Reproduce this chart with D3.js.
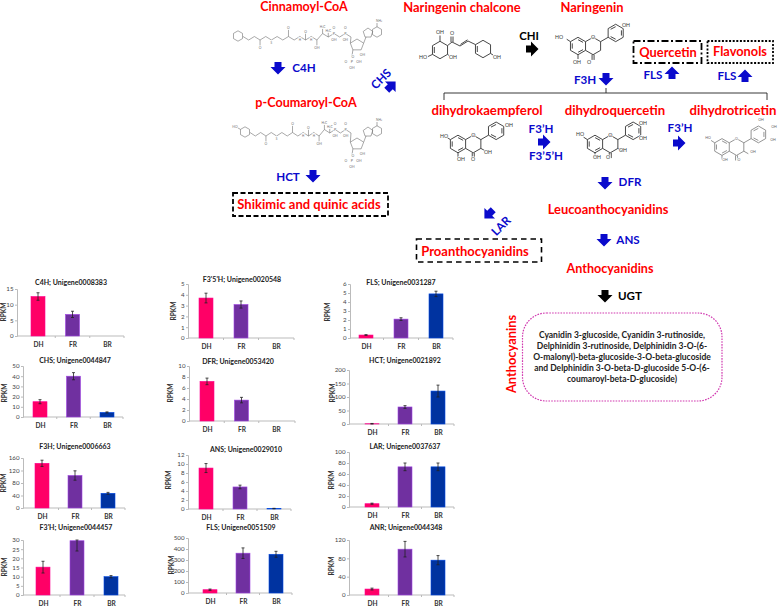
<!DOCTYPE html>
<html>
<head>
<meta charset="utf-8">
<script src="https://d3js.org/d3.v7.min.js"></script>
<style>
html, body { margin: 0; padding: 0; background: #fff; }
text { font-family: Lato, "Open Sans", sans-serif; }
</style>
</head>
<body>
<svg id="draw" width="778" height="606"></svg>
<script>
var categories = ["DH", "FR", "BR"];
var titles = [
    "C4H; Unigene0008383", "CHS; Unigene0044847", "F3H; Unigene0006663", "F3'H; Unigene0044457",
    "F3'5'H; Unigene0020548", "DFR; Unigene0053420", "ANS; Unigene0029010", "FLS; Unigene0051509",
    "FLS; Unigene0031287", "HCT; Unigene0021892", "LAR; Unigene0037637", "ANR; Unigene0044348"
];
var values = [
    [12.6, 6.9, 0], [15, 40, 4.5], [143, 104, 47], [15.2, 29.6, 10],
    [3.7, 3.1, 0], [7.2, 3.8, 0], [9.1, 4.9, 0.1], [30, 362, 352],
    [0.33, 2.1, 4.9], [1, 63, 122], [6, 73, 73], [13, 100, 76]
];
var errors = [
    [1.2, 1, 0], [2, 3.5, 0.5], [10, 15, 3], [3.2, 5.6, 0.6],
    [0.45, 0.33, 0], [0.6, 0.5, 0], [1, 0.4, 0.05], [6, 48, 27],
    [0.04, 0.15, 0.3], [1, 5, 22], [1, 7, 7], [2, 17, 10]
];
var tickValues = [
    [0, 5, 10, 15], [0, 10, 20, 30, 40, 50], [0, 40, 80, 120, 160], [0, 5, 10, 15, 20, 25, 30],
    [0, 1, 2, 3, 4, 5], [0, 2, 4, 6, 8, 10], [0, 2, 4, 6, 8, 10, 12], [0, 100, 200, 300, 400, 500],
    [0, 1, 2, 3, 4, 5, 6], [0, 50, 100, 150, 200], [0, 20, 40, 60, 80, 100], [0, 40, 80, 120]
];
var barColors = { DH: "#ff0066", FR: "#7030a0", BR: "#0033a0" };

// where each little chart sits on the page, same order as titles
// axisX, right, top, base, firstBar, lastBar, titleX, titleY, labelX, labelY
var panels = [
    [17, 124, 289, 336, 38, 107, 71, 283, 4, 312],
    [23, 123, 366, 417, 40, 107, 75, 361, 5, 393],
    [23, 125, 458, 508, 42, 108, 75, 447, 4, 483],
    [23, 125, 540, 595, 43, 111, 76, 528, 5, 567],
    [188, 294, 284, 338, 206, 276, 242, 280, 174, 311],
    [189, 295, 366, 421, 207, 276, 238, 362, 171, 393],
    [188, 291, 455, 509, 206, 274, 246, 450, 169, 480],
    [188, 292, 538, 593, 210, 276, 241, 528, 172, 565],
    [350, 453, 284, 338, 366, 436, 401, 283, 328, 312],
    [349, 454, 370, 424, 372, 438, 405, 361, 333, 393],
    [349, 454, 452, 507, 372, 438, 405, 447, 332, 480],
    [349, 454, 540, 595, 372, 438, 406, 528, 332, 566]
];

var RED = "#ff0000", BLUE = "#0a0acc", BLACK = "#000";

// text, x, y, colour, size, rotation
var pathwayLabels = [
    ["Cinnamoyl-CoA", 304, 7, RED, 12.5], ["Naringenin chalcone", 462, 7, RED, 12.95], ["Naringenin", 592, 7, RED, 12.9],
    ["p-Coumaroyl-CoA", 306, 103, RED, 12.6], ["Shikimic and quinic acids", 309, 204, RED, 13],
    ["Quercetin", 668, 52, RED, 12.85], ["Flavonols", 740, 52, RED, 12.8],
    ["dihydrokaempferol", 487, 110, RED, 13.2], ["dihydroquercetin", 615, 110, RED, 13.2], ["dihydrotricetin", 733, 110, RED, 13.2],
    ["Leucoanthocyanidins", 608, 209, RED, 12.9], ["Anthocyanidins", 610, 269, RED, 12.6], ["Proanthocyanidins", 475, 251, RED, 13],
    ["Anthocyanins", 511, 354, RED, 12.85, -90],
    ["C4H", 304, 68, BLUE, 11.6], ["HCT", 288, 177, BLUE, 11.6], ["F3H", 585, 80, BLUE, 11.6], ["FLS", 653, 75, BLUE, 11.6], ["FLS", 727, 76, BLUE, 11.6],
    ["F3\u2019H", 541, 129, BLUE, 11.6], ["F3\u20195\u2019H", 546, 156, BLUE, 11.6], ["F3\u2019H", 680, 128, BLUE, 11.6],
    ["DFR", 630, 182, BLUE, 11.6], ["ANS", 628, 240, BLUE, 11.6],
    ["CHS", 381, 79, BLUE, 11.6, -45], ["LAR", 501, 226, BLUE, 11.6, -45],
    ["CHI", 529, 36, BLACK, 11.4], ["UGT", 630, 296, BLACK, 11.6]
];
// x, y, direction in degrees (0 = down, 90 = left, 180 = up, 270 = right), colour
var pathwayArrows = [
    [278, 68, 0, BLUE], [313, 176, 0, BLUE], [606, 79, 0, BLUE], [672, 73, 180, BLUE], [745, 76, 180, BLUE],
    [544, 142, 270, BLUE], [679, 143, 270, BLUE], [605, 183, 0, BLUE], [604, 240, 0, BLUE],
    [391, 86, 225, BLUE], [489, 214, 45, BLUE], [532, 49, 270, BLACK], [605, 296, 0, BLACK]
];
var anthocyaninLines = [
    "Cyanidin 3-glucoside, Cyanidin 3-rutinoside,",
    "Delphinidin 3-rutinoside, Delphinidin 3-O-(6-",
    "O-malonyl)-beta-glucoside-3-O-beta-glucoside",
    "and Delphinidin 3-O-beta-D-glucoside 5-O-(6-",
    "coumaroyl-beta-D-glucoside)"
];

var svg = d3.select("#draw");

// ---------------------------------------------------------------------------

function drawPanel(i) {
    var p = panels[i];
    var g = svg.append("g");
    var y = d3.scaleLinear().domain(d3.extent(tickValues[i])).range([p[3], p[2]]);
    var x = d3.scalePoint().domain(categories).range([p[4], p[5]]);
    var step = x.step();
    var barW = 14;

    var yAxis = d3.axisLeft(y).tickValues(tickValues[i]).tickFormat(d3.format("d")).tickSize(2).tickPadding(1.5);
    var ax = g.append("g").attr("transform", "translate(" + p[0] + ",0)").call(yAxis);
    ax.selectAll("path, line").attr("stroke", "#bbb");
    ax.selectAll("text").attr("font-size", 6.2).attr("fill", "#444").attr("font-family", "Lato");

    // excel style x axis, ticks fall between the categories
    var xAxis = d3.axisBottom(x).tickSize(0).tickPadding(6);
    var bx = g.append("g").attr("transform", "translate(0," + p[3] + ")").call(xAxis);
    bx.select("path").remove();
    bx.selectAll("text").attr("font-size", 6.6).attr("fill", "#333").attr("font-weight", 700).attr("font-family", "Lato");
    g.append("line").attr("x1", p[0]).attr("x2", p[1]).attr("y1", p[3]).attr("y2", p[3]).attr("stroke", "#bbb");
    g.selectAll("line.sep").data(categories.slice(0, 2)).enter().append("line").attr("class", "sep")
        .attr("x1", (d) => x(d) + step / 2).attr("x2", (d) => x(d) + step / 2)
        .attr("y1", p[3]).attr("y2", p[3] + 2).attr("stroke", "#bbb");
    g.append("line").attr("x1", p[1]).attr("x2", p[1]).attr("y1", p[3]).attr("y2", p[3] + 2).attr("stroke", "#bbb");

    var rows = categories.map((c, k) => ({ c: c, v: values[i][k], e: errors[i][k] }));
    g.selectAll("rect").data(rows).enter().append("rect")
        .attr("x", (d) => x(d.c) - barW / 2)
        .attr("width", barW)
        .attr("y", (d) => y(d.v))
        .attr("height", (d) => y(0) - y(d.v))
        .attr("fill", (d) => barColors[d.c])
        .attr("stroke", (d) => d.v > 0 ? d3.color(barColors[d.c]).brighter(1).formatHex() : "none")
        .attr("stroke-width", 0.6);

    var bars = rows.filter((d) => d.e > 0);
    var top = (d) => Math.max(y(d.v + d.e), p[2]);
    g.selectAll("line.err").data(bars).enter().append("line").attr("class", "err")
        .attr("x1", (d) => x(d.c)).attr("x2", (d) => x(d.c))
        .attr("y1", top).attr("y2", (d) => y(Math.max(d.v - d.e, 0)))
        .attr("stroke", "#222").attr("stroke-width", 0.8);
    g.selectAll("line.capT").data(bars).enter().append("line").attr("class", "capT")
        .attr("x1", (d) => x(d.c) - 1.5).attr("x2", (d) => x(d.c) + 1.5)
        .attr("y1", top).attr("y2", top)
        .attr("stroke", "#222").attr("stroke-width", 0.8);
    g.selectAll("line.capB").data(bars).enter().append("line").attr("class", "capB")
        .attr("x1", (d) => x(d.c) - 1.5).attr("x2", (d) => x(d.c) + 1.5)
        .attr("y1", (d) => y(Math.max(d.v - d.e, 0))).attr("y2", (d) => y(Math.max(d.v - d.e, 0)))
        .attr("stroke", "#222").attr("stroke-width", 0.8);

    g.append("text").attr("x", p[6]).attr("y", p[7]).attr("dy", "0.35em")
        .attr("text-anchor", "middle").attr("font-size", 7).attr("font-weight", 700).attr("fill", "#222")
        .text(titles[i]);
    g.append("text").attr("transform", "translate(" + p[8] + "," + p[9] + ") rotate(-90)").attr("dy", "0.35em")
        .attr("text-anchor", "middle").attr("font-size", 6.6).attr("font-weight", 700).attr("fill", "#333")
        .text("RPKM");
}

d3.range(titles.length).forEach(drawPanel);

// ---------------------------------------------------------------------------
// pathway part

svg.selectAll("text.lbl").data(pathwayLabels).enter().append("text").attr("class", "lbl")
    .attr("transform", (d) => "translate(" + d[1] + "," + d[2] + ") rotate(" + (d[5] || 0) + ")")
    .attr("dy", "0.35em").attr("text-anchor", "middle").attr("font-weight", 700)
    .attr("fill", (d) => d[3]).attr("font-size", (d) => d[4])
    .text((d) => d[0]);

var arrowLine = d3.line();
var arrowShape = [[-3.5, -6], [3.5, -6], [3.5, -1], [7.5, -1], [0, 6.5], [-7.5, -1], [-3.5, -1]];
svg.selectAll("path.arrow").data(pathwayArrows).enter().append("path").attr("class", "arrow")
    .attr("d", arrowLine(arrowShape) + "Z")
    .attr("transform", (d) => "translate(" + d[0] + "," + d[1] + ") rotate(" + d[2] + ")")
    .attr("fill", (d) => d[3]);

function box(x, y, w, h, dash, width, color, rx) {
    svg.append("rect").attr("x", x).attr("y", y).attr("width", w).attr("height", h)
        .attr("rx", rx || 0).attr("fill", "none")
        .attr("stroke", color || "#000").attr("stroke-width", width).attr("stroke-dasharray", dash);
}
box(233, 193, 155, 23, "5 2.5", 1.8);
box(633.5, 41, 68, 22, "7 2.5 2 2.5", 1.8);
box(707.5, 41, 65.5, 22, "2 1.6", 1.8);
box(416.5, 239, 125, 23, "5.5 4", 1.6);
box(522.5, 313, 199.5, 88, "1.6 1.2", 1.2, "#d13ab0", 24);

svg.selectAll("text.antho").data(anthocyaninLines).enter().append("text").attr("class", "antho")
    .attr("x", 622).attr("y", (d, i) => 335 + i * 11).attr("dy", "0.35em")
    .attr("text-anchor", "middle").attr("font-size", 8.5).attr("font-weight", 700).attr("fill", "#222")
    .text((d) => d);

// bracket under F3H
svg.append("path").attr("fill", "none").attr("stroke", "#222").attr("stroke-width", 0.9)
    .attr("d", "M444,100V93H767V100M606,93V88");

// ---------------------------------------------------------------------------
// molecules, just line drawings

function atom(g, x, y, t, size, color) {
    g.append("text").attr("x", x).attr("y", y).attr("dy", "0.35em").attr("text-anchor", "middle")
        .attr("font-size", size).attr("fill", color).attr("font-family", "Liberation Sans")
        .attr("stroke", "#fff").attr("stroke-width", 1.5).attr("paint-order", "stroke")
        .text(t);
}
function bond(g, pts) {
    g.append("path").attr("d", d3.line()(pts));
}
function hexPts(cx, cy, r) {
    return d3.range(7).map((k) => [cx + r * Math.sin(k * Math.PI / 3), cy - r * Math.cos(k * Math.PI / 3)]);
}
function molGroup(color, width) {
    return svg.append("g").attr("fill", "none").attr("stroke", color).attr("stroke-width", width);
}

// A ring centre at ax, ay. extra is a list of [text, x, y] for the hydroxyls
function flavan(ax, ay, r, color, width, size, extra, hasC3) {
    var g = molGroup(color, width);
    var s = Math.sqrt(3) / 2;
    bond(g, hexPts(ax, ay, r));
    var cx = ax + 2 * s * r;
    bond(g, [[ax + s * r, ay - r / 2], [cx, ay - r], [cx + s * r, ay - r / 2], [cx + s * r, ay + r / 2], [cx, ay + r], [ax + s * r, ay + r / 2]]);
    var bx = ax + 4.33 * r, by = ay - 1.5 * r;
    bond(g, hexPts(bx, by, r));
    bond(g, [[cx + s * r, ay - r / 2], [bx - s * r, by + r / 2]]);
    bond(g, [[cx - 1, ay + r], [cx - 1, ay + 1.6 * r]]);
    bond(g, [[cx + 1, ay + r], [cx + 1, ay + 1.6 * r]]);
    bond(g, [[ax, ay + r], [ax, ay + 1.5 * r]]);
    bond(g, [[ax - s * r, ay - r / 2], [ax - 1.3 * r, ay - 0.78 * r]]);
    if (hasC3) bond(g, [[cx + s * r, ay + r / 2], [cx + 1.4 * r, ay + 0.8 * r]]);
    // inner double bonds
    bond(g, [[ax - 0.66 * r, ay - r * 0.3], [ax - 0.66 * r, ay + r * 0.3]]);
    bond(g, [[ax + 0.1, ay + 0.72 * r], [ax + 0.58 * r, ay + 0.42 * r]]);
    bond(g, [[ax + 0.1, ay - 0.72 * r], [ax + 0.58 * r, ay - 0.42 * r]]);
    bond(g, [[bx + 0.66 * r, by - r * 0.3], [bx + 0.66 * r, by + r * 0.3]]);
    bond(g, [[bx, by + 0.72 * r], [bx - 0.58 * r, by + 0.42 * r]]);
    bond(g, [[bx, by - 0.72 * r], [bx - 0.58 * r, by - 0.42 * r]]);
    var t = svg.append("g");
    atom(t, cx, ay - r, "O", size, color);
    extra.forEach((d) => atom(t, d[1], d[2], d[0], size, color));
}

flavan(578, 46, 8.7, "#333", 0.9, 5.2, [["HO", 559, 37], ["OH", 577, 62], ["O", 589, 62], ["OH", 626, 25]]);
flavan(458, 144, 8.8, "#333", 0.9, 5.2, [["HO", 444, 136], ["OH", 461, 159], ["O", 473, 159], ["OH", 488, 152], ["OH", 509, 125]], true);
flavan(595, 144, 8.8, "#333", 0.9, 5.2, [["HO", 580, 134], ["OH", 597, 157], ["O", 608, 157], ["OH", 623, 150], ["OH", 643, 123], ["OH", 643, 138]], true);
flavan(722, 147, 8.4, "#666", 0.7, 3.6, [["HO", 708, 138], ["OH", 725, 160], ["O", 739, 160], ["OH", 753, 152], ["OH", 761, 120], ["OH", 774, 127], ["OH", 773, 140]], true);

function chalcone() {
    var g = molGroup("#333", 0.9);
    var t = svg.append("g");
    bond(g, hexPts(440, 50, 8.7));
    bond(g, hexPts(483, 49, 8.7));
    bond(g, [[447.5, 45.6], [452, 42], [460, 46], [468, 41], [475.5, 44.6]]);
    bond(g, [[460.5, 44.4], [467.5, 39.8]]);
    bond(g, [[451, 42], [451, 36.5]]);
    bond(g, [[453, 42], [453, 36.5]]);
    bond(g, [[440, 41.3], [440, 35.5]]);
    bond(g, [[432.5, 54.4], [428, 56.5]]);
    bond(g, [[447.5, 54.4], [449, 55.5]]);
    bond(g, [[490.5, 53.4], [493, 55]]);
    bond(g, [[434.3, 47], [434.3, 53]]);
    bond(g, [[477.3, 46], [477.3, 52]]);
    atom(t, 440, 32, "OH", 5.2, "#333");
    atom(t, 423, 57, "HO", 5.2, "#333");
    atom(t, 453, 57, "OH", 5.2, "#333");
    atom(t, 452, 33, "O", 5.2, "#333");
    atom(t, 497, 57, "OH", 5.2, "#333");
}
chalcone();

// coenzyme A tail. ringX/ringY = aromatic ring, rx/ry = ribose centre
function coa(ringX, ringY, rx, ry, hydroxy) {
    var color = "#6e6e6e";
    var g = molGroup(color, 0.6);
    var t = svg.append("g");
    bond(g, hexPts(ringX, ringY, 5.2));
    if (hydroxy) {
        bond(g, [[ringX - 4.5, ringY - 2.6], [ringX - 7.5, ringY - 4.3]]);
        atom(t, ringX - 10, ringY - 5, "HO", 3.4, color);
    }
    var x0 = ringX + 5, x1 = rx - 6;
    var n = 19;
    var chain = d3.range(n + 1).map((k) => [x0 + (x1 - x0) * k / n, ringY + (k % 2 ? 2.5 : -1) + 1.5 + (k > 13 ? -3 : 0)]);
    bond(g, chain);
    [3, 8, 11].forEach((k) => {
        bond(g, [chain[k], [chain[k][0], chain[k][1] + (k == 3 ? 6 : -7)]]);
        atom(t, chain[k][0], chain[k][1] + (k == 3 ? 8 : -8.5), "O", 3.4, color);
    });
    [5, 10, 12].forEach((k) => atom(t, chain[k][0], chain[k][1] + 3.2, k == 5 ? "S" : "H", 3, color));
    [14, 15].forEach((k) => {
        atom(t, chain[k][0], chain[k][1] - 6.5, "H\u2083C", 3.2, color);
        bond(g, [chain[k], [chain[k][0], chain[k][1] - 5]]);
    });
    bond(g, [chain[13], [chain[13][0], chain[13][1] + 6]]);
    atom(t, chain[13][0], chain[13][1] + 8, "OH", 3.4, color);
    [16, 18].forEach((k) => {
        atom(t, chain[k][0], chain[k][1], "P", 3.6, color);
        atom(t, chain[k][0], chain[k][1] - 6, "O", 3.4, color);
        atom(t, chain[k][0], chain[k][1] + 6, "OH", 3.4, color);
    });
    // ribose
    var pent = d3.range(6).map((k) => [rx + 7 * Math.sin(k * 2 * Math.PI / 5), ry - 6 * Math.cos(k * 2 * Math.PI / 5)]);
    bond(g, pent);
    bond(g, [chain[n], pent[4]]);
    atom(t, rx + 5.5, ry + 10, "OH", 3.4, color);
    bond(g, [pent[3], [pent[3][0] - 1, pent[3][1] + 7]]);
    // phosphate under ribose
    var px = pent[3][0] - 1, py = pent[3][1] + 12;
    atom(t, px, py, "P", 3.6, color);
    atom(t, px - 6, py, "O", 3.4, color);
    atom(t, px + 7, py, "OH", 3.4, color);
    atom(t, px, py + 6, "OH", 3.4, color);
    atom(t, px + 1, py - 5, "O", 3.4, color);
    // adenine
    bond(g, [pent[1], [rx + 9, ry - 8]]);
    var ax = rx + 11, ay = ry - 12;
    bond(g, d3.range(6).map((k) => [ax + 5 * Math.sin(k * 2 * Math.PI / 5), ay - 5 * Math.cos(k * 2 * Math.PI / 5)]));
    bond(g, hexPts(ax + 9, ay - 1, 5.2));
    bond(g, [[ax + 9, ay - 6], [ax + 9, ay - 10]]);
    atom(t, ax + 11, ay - 12.5, "NH\u2082", 3.2, color);
}
coa(238, 36, 357, 45, false);
coa(245, 132, 357, 144, true);
</script>
</body>
</html>
